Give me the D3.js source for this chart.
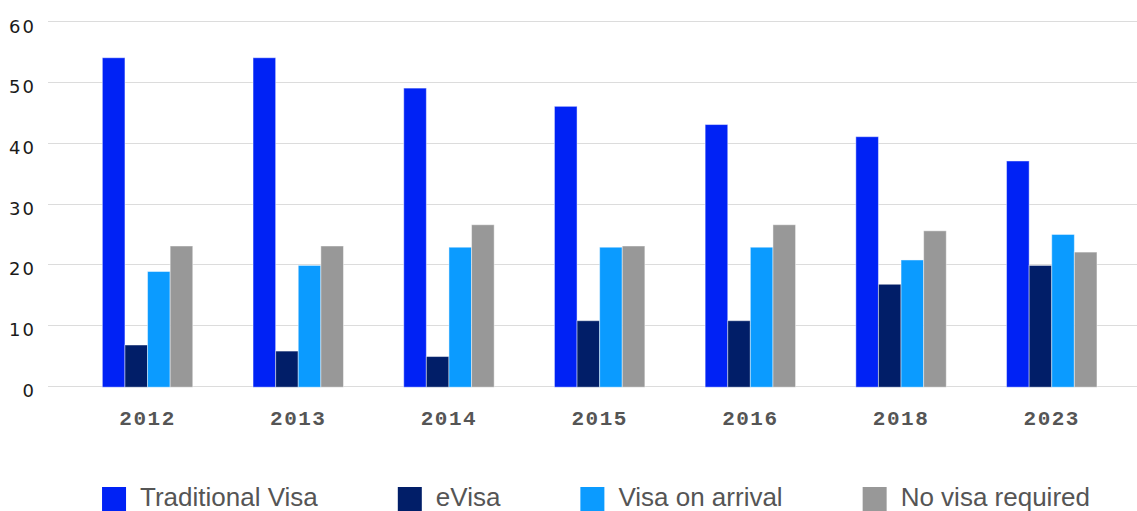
<!DOCTYPE html>
<html>
<head>
<meta charset="utf-8">
<script src="https://cdn.jsdelivr.net/npm/d3@7"></script>
<style>
  body { margin: 0; background: #fff; }
  svg { display: block; }
</style>
</head>
<body>
<script>
(function() {
    var w = 1137;
    var h = 511;

    var years = ["2012", "2013", "2014", "2015", "2016", "2018", "2023"];
    var seriesNames = ["Traditional Visa", "eVisa", "Visa on arrival", "No visa required"];
    var seriesColors = ["#0022f5", "#011e68", "#0b9bff", "#989898"];

    var traditionalVisa = [54, 54, 49, 46, 43, 41, 37];
    var eVisa = [6.7, 5.7, 4.8, 10.7, 10.7, 16.7, 19.8];
    var visaOnArrival = [18.8, 19.8, 22.8, 22.8, 22.8, 20.7, 24.9];
    var noVisaRequired = [23, 23, 26.5, 23, 26.5, 25.5, 22];

    var yTicks = [0, 10, 20, 30, 40, 50, 60];

    var series = [traditionalVisa, eVisa, visaOnArrival, noVisaRequired];

    //create our svg
    var svg = d3.select("body").append("svg")
        .attr("width", w)
        .attr("height", h);

    var x = d3.scaleBand()
        .domain(years)
        .range([72.2, 1127.1])
        .paddingInner(0.4)
        .paddingOuter(0.2);

    var xInner = d3.scaleBand()
        .domain(d3.range(series.length))
        .range([0, x.bandwidth()]);

    var y = d3.scaleLinear()
        .domain([0, 60])
        .range([385.7, 21.3]);

    //gridlines
    svg.append("g")
        .selectAll("line")
        .data(yTicks)
        .enter()
        .append("line")
        .attr("x1", 48)
        .attr("x2", w)
        .attr("y1", function(d) { return Math.round(y(d)) + 0.5; })
        .attr("y2", function(d) { return Math.round(y(d)) + 0.5; })
        .attr("stroke", "#dcdcdc")
        .attr("stroke-width", 1);

    //y axis labels
    var yAxis = d3.axisLeft(y).tickValues(yTicks).tickSize(0).tickPadding(0);
    var yg = svg.append("g")
        .attr("transform", "translate(36,5)")
        .call(yAxis);
    yg.select(".domain").remove();
    yg.selectAll("text")
        .attr("fill", "#1a1a1a")
        .style("font-family", "'DejaVu Sans', sans-serif")
        .style("font-size", "18px")
        .style("letter-spacing", "2px");

    //bars
    var groups = svg.append("g")
        .selectAll("g")
        .data(years)
        .enter()
        .append("g")
        .attr("transform", function(d) { return "translate(" + x(d) + ",0)"; });

    groups.selectAll("rect")
        .data(function(d, i) {
            return series.map(function(s, k) { return {k: k, v: s[i]}; });
        })
        .enter()
        .append("rect")
        .attr("x", function(d) { return xInner(d.k); })
        .attr("width", xInner.bandwidth())
        .attr("y", function(d) { return y(d.v); })
        .attr("height", function(d) { return y(0) - y(d.v) + 1.5; })
        .attr("fill", function(d) { return seriesColors[d.k]; })
        .attr("stroke", "rgba(255,255,255,0.45)")
        .attr("stroke-width", 1);

    //x axis labels
    var xAxis = d3.axisBottom(x).tickSize(0).tickPadding(0);
    var xg = svg.append("g")
        .attr("transform", "translate(0,410)")
        .call(xAxis);
    xg.select(".domain").remove();
    xg.selectAll("text")
        .attr("fill", "#555")
        .attr("dy", "0.71em")
        .style("font-family", "'Liberation Mono', monospace")
        .style("font-weight", "bold")
        .style("font-size", "21px")
        .style("letter-spacing", "1.5px");

    //legend
    var legend = svg.append("g");
    var items = legend.selectAll("g")
        .data(seriesNames)
        .enter()
        .append("g");

    items.append("rect")
        .attr("width", 24)
        .attr("height", 26)
        .attr("y", 487)
        .attr("fill", function(d, i) { return seriesColors[i]; });

    items.append("text")
        .attr("x", 38)
        .attr("y", 506)
        .attr("fill", "#555")
        .style("font-family", "'Liberation Sans', Arial, sans-serif")
        .style("font-size", "26px")
        .text(function(d) { return d; });

    var offsets = [];
    var pos = 0;
    items.each(function() {
        offsets.push(pos);
        pos += 38 + d3.select(this).select("text").node().getComputedTextLength() + 80;
    });
    var total = pos - 80;
    var start = 596 - total / 2;
    items.attr("transform", function(d, i) { return "translate(" + (start + offsets[i]) + ",0)"; });

})();
</script>
</body>
</html>
